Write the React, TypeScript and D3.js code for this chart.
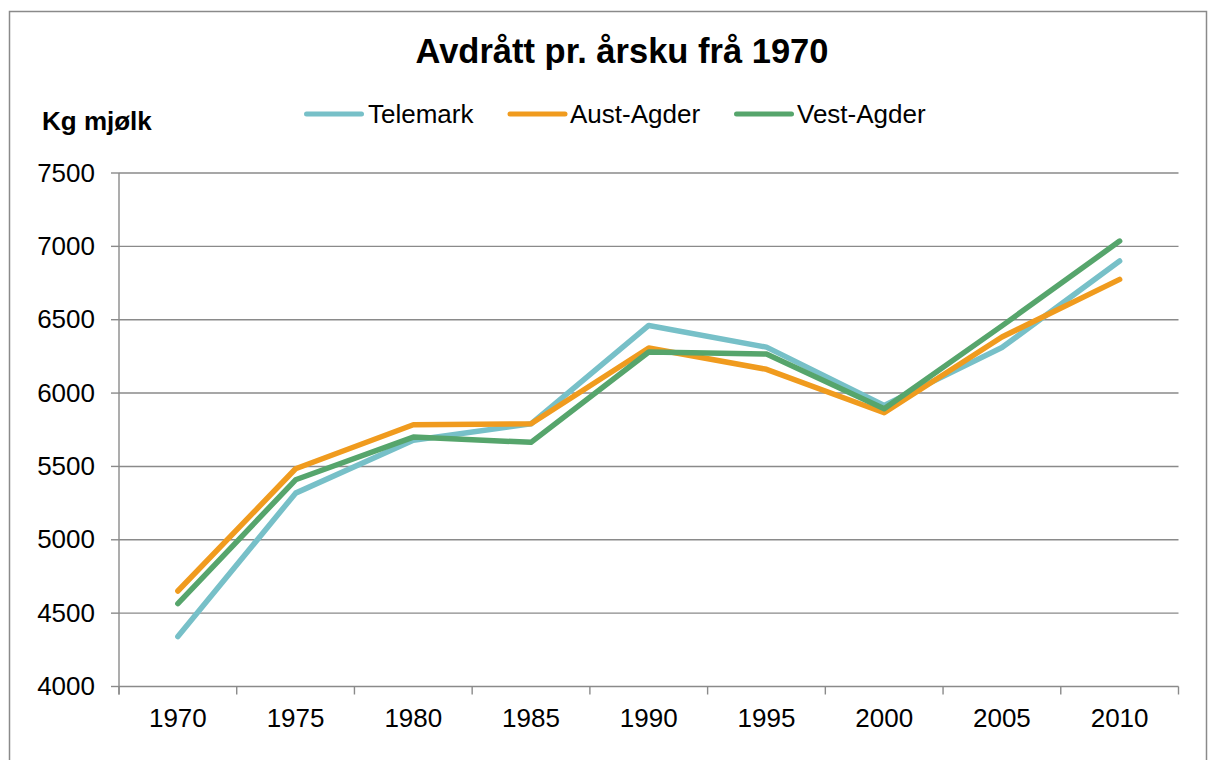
import React from "react";
import * as d3 from "d3";

const years = ["1970", "1975", "1980", "1985", "1990", "1995", "2000", "2005", "2010"];
const telemark = [4340, 5318, 5678, 5790, 6461, 6313, 5916, 6310, 6900];
const austAgder = [4651, 5484, 5784, 5791, 6307, 6162, 5866, 6382, 6775];
const vestAgder = [4565, 5409, 5700, 5664, 6280, 6266, 5893, 6458, 7036];
const yTicks = [4000, 4500, 5000, 5500, 6000, 6500, 7000, 7500];
const seriesNames = ["Telemark", "Aust-Agder", "Vest-Agder"];
const seriesColors = ["#77C0C8", "#F09B1E", "#56A56C"];

const W = 1208;
const H = 760;
const FONT = "'Liberation Sans', Arial, sans-serif";
const GRID = "#8a8a8a";

export default function App() {
  const left = 119;
  const right = 1178.5;
  const top = 173;
  const bottom = 686.5;

  const x = d3.scaleBand<string>().domain(years).range([left, right]).padding(0);
  const y = d3.scaleLinear().domain([4000, 7500]).range([bottom, top]);

  const series = [telemark, austAgder, vestAgder];
  const line = d3
    .line<number>()
    .x((_, i) => (x(years[i]) as number) + x.bandwidth() / 2)
    .y((v) => y(v));

  const boundaries = d3.range(years.length + 1).map((i) => left + i * x.bandwidth());

  const legendItems = [
    { lx: 306.5, tx: 368 },
    { lx: 510, tx: 570 },
    { lx: 736.5, tx: 797 },
  ];

  return (
    <svg
      width={W}
      height={H}
      style={{ position: "absolute", left: 0, top: 0, background: "#fff" }}
      fontFamily={FONT}
    >
      <rect x={0} y={0} width={W} height={H} fill="#fff" />
      <rect x={9.5} y={11.5} width={1197} height={760} fill="none" stroke="#8a8a8a" strokeWidth={1.5} />

      <text x={622} y={63} textAnchor="middle" fontSize={34.5} fontWeight="bold" fill="#000">
        Avdrått pr. årsku frå 1970
      </text>

      <text x={42} y={130} fontSize={26} fontWeight="bold" fill="#000">
        Kg mjølk
      </text>

      {seriesNames.map((name, i) => (
        <g key={name}>
          <line
            x1={legendItems[i].lx}
            x2={legendItems[i].lx + 55}
            y1={114}
            y2={114}
            stroke={seriesColors[i]}
            strokeWidth={5}
            strokeLinecap="round"
          />
          <text x={legendItems[i].tx} y={122.5} fontSize={26} fill="#000">
            {name}
          </text>
        </g>
      ))}

      {yTicks.map((t) => (
        <g key={t}>
          <line x1={left} x2={right} y1={y(t)} y2={y(t)} stroke={GRID} strokeWidth={1.4} />
          <line x1={left - 8} x2={left} y1={y(t)} y2={y(t)} stroke={GRID} strokeWidth={1.4} />
          <text x={95} y={y(t) + 8.5} textAnchor="end" fontSize={26} fill="#000">
            {t}
          </text>
        </g>
      ))}

      <line x1={left} x2={left} y1={top} y2={bottom + 8} stroke={GRID} strokeWidth={1.4} />
      {boundaries.map((bx, i) => (
        <line key={i} x1={bx} x2={bx} y1={bottom} y2={bottom + 8} stroke={GRID} strokeWidth={1.4} />
      ))}

      {years.map((yr) => (
        <text
          key={yr}
          x={(x(yr) as number) + x.bandwidth() / 2}
          y={727}
          textAnchor="middle"
          fontSize={26}
          fill="#000"
        >
          {yr}
        </text>
      ))}

      {series.map((s, i) => (
        <path
          key={seriesNames[i]}
          d={line(s) as string}
          fill="none"
          stroke={seriesColors[i]}
          strokeWidth={5.5}
          strokeLinecap="round"
          strokeLinejoin="round"
        />
      ))}
    </svg>
  );
}
